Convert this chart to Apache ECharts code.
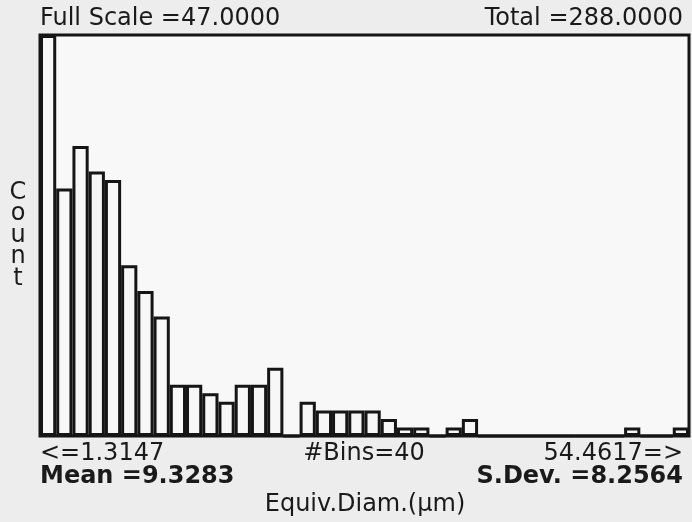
<!DOCTYPE html>
<html>
<head>
<meta charset="utf-8">
<script src="https://cdn.jsdelivr.net/npm/echarts@6/dist/echarts.min.js"></script>
<style>
html,body{margin:0;padding:0;background:#ededed;}
#chart{width:692px;height:522px;}
</style>
</head>
<body>
<div id="chart"></div>
<script>
// 40 histogram bins (bin number), counts
const bins = ["1","2","3","4","5","6","7","8","9","10","11","12","13","14","15","16","17","18","19","20",
              "21","22","23","24","25","26","27","28","29","30","31","32","33","34","35","36","37","38","39","40"];
const counts = [47,29,34,31,30,20,17,14,6,6,5,4,6,6,8,0,4,3,3,3,3,2,1,1,0,1,2,0,0,0,0,0,0,0,0,0,1,0,0,1];
const fullScale = 47;
const headerLeft = "Full Scale =47.0000";
const headerRight = "Total =288.0000";
const minLabel = "<=1.3147";
const binsLabel = "#Bins=40";
const maxLabel = "54.4617=>";
const meanLabel = "Mean =9.3283";
const sdevLabel = "S.Dev. =8.2564";
const xTitle = "Equiv.Diam.(\u00b5m)";
const yTitle = "Count";

const font = "DejaVu Sans";
const ink = "#1a1a1a";
function txt(text, x, y, align, weight){
  return {type:'text', x:x, y:y, silent:true,
    style:{text:text, fill:ink, font:(weight||'normal')+' 24px "'+font+'"', textAlign:align, textVerticalAlign:'middle'}};
}

const chart = echarts.init(document.getElementById('chart'), null, {renderer:'canvas'});
chart.setOption({
  backgroundColor:'#ededed',
  animation:false,
  grid:{left:40, right:3, top:35, bottom:86, show:true, borderColor:'#151515', borderWidth:3, backgroundColor:'#f8f8f8'},
  xAxis:{type:'category', data:bins, axisLine:{show:false}, axisTick:{show:false}, axisLabel:{show:false}, splitLine:{show:false}},
  yAxis:{type:'value', min:0, max:fullScale, axisLine:{show:false}, axisTick:{show:false}, axisLabel:{show:false}, splitLine:{show:false}},
  series:[{type:'bar', data:counts, barWidth:'100%', barCategoryGap:0,
    itemStyle:{color:'#f7f7f7', borderColor:'#151515', borderWidth:3}}],
  graphic:[
    txt(headerLeft, 40, 19, 'left'),
    txt(headerRight, 683, 19, 'right'),
    txt(minLabel, 40, 454, 'left'),
    txt(binsLabel, 364, 454, 'center'),
    txt(maxLabel, 683, 454, 'right'),
    txt(meanLabel, 40, 477, 'left', 'bold'),
    txt(sdevLabel, 683, 477, 'right', 'bold'),
    txt(xTitle, 365, 505, 'center'),
    {type:'text', x:18, y:182, silent:true,
     style:{text:yTitle.split('').join('\n'), fill:ink, font:'normal 24px "'+font+'"', textAlign:'center', textVerticalAlign:'top', lineHeight:21.5}}
  ]
});
</script>
</body>
</html>
